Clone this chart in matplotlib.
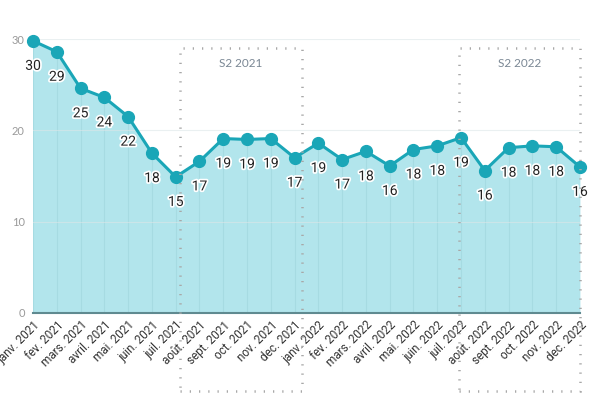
import matplotlib.pyplot as plt
import matplotlib.patheffects as pe
from matplotlib.patches import Rectangle
from matplotlib.transforms import blended_transform_factory

months = ["janv. 2021", "fev. 2021", "mars. 2021", "avril. 2021", "mai. 2021", "juin. 2021",
          "juil. 2021", "août. 2021", "sept. 2021", "oct. 2021", "nov. 2021", "dec. 2021",
          "janv. 2022", "fev. 2022", "mars. 2022", "avril. 2022", "mai. 2022", "juin. 2022",
          "juil. 2022", "août. 2022", "sept. 2022", "oct. 2022", "nov. 2022", "dec. 2022"]
values = [29.8, 28.6, 24.6, 23.6, 21.5, 17.5, 14.9, 16.6, 19.1, 19.0, 19.1, 17.0,
          18.6, 16.8, 17.7, 16.1, 17.9, 18.3, 19.2, 15.6, 18.1, 18.3, 18.2, 16.0]
y_ticks = [0, 10, 20, 30]

# semester highlight boxes: label, first month index, last month index
periods = [("S2 2021", 6.2, 11.3), ("S2 2022", 17.9, 23.0)]

line_color = "#1aa6b7"
fill_color = "#b2e5ec"

fig = plt.figure(figsize=(5.96, 3.98), dpi=100)
ax = fig.add_axes([0.0554, 0.2136, 0.9176, 0.6884])

x = list(range(len(values)))
ax.fill_between(x, values, 0, color=fill_color, lw=0, zorder=1)
# faint drop lines under each point
ax.vlines(x, 0, values, color="#a6dbe2", lw=0.8, zorder=1.5)
ax.plot(x, values, color=line_color, lw=2.2, marker="o", ms=8.5, zorder=3, clip_on=False)

for xi, v in zip(x, values):
    ax.annotate(f"{round(v):d}", (xi, v), xytext=(0, -18), textcoords="offset points",
                ha="center", va="center", fontsize=10, family="Roboto", color="#222222",
                path_effects=[pe.withStroke(linewidth=2.5, foreground="white")], zorder=4)

trans = blended_transform_factory(ax.transData, ax.transAxes)
for label, x0, x1 in periods:
    rect = Rectangle((x0, -0.285), x1 - x0, 0.967 + 0.285, transform=trans, fill=False,
                     ec="#a8a8a8", lw=1.8, ls=(0, (0.5, 3.2)), clip_on=False, zorder=5)
    ax.add_patch(rect)
    ax.text((x0 + x1) / 2, 0.91, label, transform=trans, ha="center", va="center",
            fontsize=8.5, family="Lato", color="#7a8794")

ax.set_xlim(0, len(values) - 1)
ax.set_ylim(0, 30)
ax.set_yticks(y_ticks)
ax.set_yticklabels([str(t) for t in y_ticks])
ax.tick_params(axis="y", length=0, labelsize=8, labelcolor="#9a9a9a", pad=6)
for lab in ax.get_yticklabels():
    lab.set_family("Lato")
ax.grid(axis="y", color="#dde6e8", lw=0.8, alpha=0.6, zorder=2)

ax.set_xticks(x)
ax.set_xticklabels(months, rotation=45, ha="right", rotation_mode="anchor",
                   fontsize=8.5, family="Roboto", color="#333333")
ax.tick_params(axis="x", length=0, pad=4)

for side in ["top", "right", "left"]:
    ax.spines[side].set_visible(False)
ax.spines["bottom"].set_color("#5f8a90")
ax.spines["bottom"].set_linewidth(1.5)

fig.savefig("out.png", dpi=100)
